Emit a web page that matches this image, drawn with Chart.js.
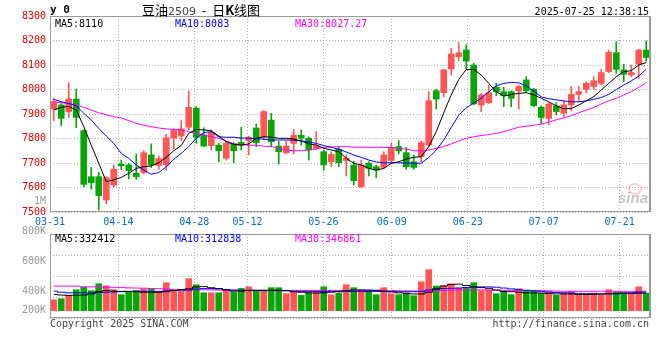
<!DOCTYPE html>
<html><head><meta charset="utf-8">
<script src="https://cdn.jsdelivr.net/npm/chart.js@4.4.1/dist/chart.umd.min.js"></script>
<style>
html,body{margin:0;padding:0;background:#fff;}
#wrap{position:relative;width:660px;height:360px;overflow:hidden;background:#fff;}
canvas{position:absolute;left:0;}
.t{position:absolute;white-space:nowrap;font-family:"DejaVu Sans Mono",monospace;font-size:10px;line-height:12px;height:12px;}
</style></head><body>
<div id="wrap">
<canvas id="k" width="660" height="232" style="top:0;width:660px;height:232px"></canvas>
<canvas id="v" width="660" height="132" style="top:190px;width:660px;height:132px"></canvas>
<div class="t" style="left:50px;top:4px;font-weight:bold;font-size:11px;">y 0</div>
<div class="t" style="left:142px;top:2px;font-family:'Noto Sans CJK SC';font-size:13px;line-height:16px;height:16px">豆油<span style="color:#444;font-family:'DejaVu Sans';font-size:11px">2509</span>&nbsp;&nbsp;-&nbsp;&nbsp;日<b>K</b>线图</div>
<div class="t" id="stamp" style="right:11px;top:6px"></div>
<div class="t" id="m5" style="left:55px;top:18px;color:#000"></div>
<div class="t" id="m10" style="left:175px;top:18px;color:#0000ff"></div>
<div class="t" id="m30" style="left:295px;top:18px;color:#ff00ff"></div>
<div class="t" id="v5" style="left:55px;top:233px;color:#000"></div>
<div class="t" id="v10" style="left:175px;top:233px;color:#0000ff"></div>
<div class="t" id="v30" style="left:295px;top:233px;color:#ff00ff"></div>
<div class="t" style="left:50px;top:318px;color:#444">Copyright 2025 SINA.COM</div>
<div class="t" style="right:11px;top:318px;color:#444">http://finance.sina.com.cn</div>
<div style="position:absolute;left:628px;top:183px;width:10px;height:8px;border-radius:50%;border:2px solid rgba(240,120,120,0.35)"></div>
<div style="position:absolute;left:618px;top:189px;font:italic bold 15px 'Liberation Sans';color:rgba(140,140,140,0.5)">sina</div>
</div>
<script>
const stampText = '2025-07-25 12:38:15';
const days = ['03-31','04-01','04-02','04-03','04-07','04-08','04-09','04-10','04-11','04-14','04-15','04-16','04-17','04-18','04-21','04-22','04-23','04-24','04-25','04-28','04-29','04-30','05-06','05-07','05-08','05-09','05-12','05-13','05-14','05-15','05-16','05-19','05-20','05-21','05-22','05-23','05-26','05-27','05-28','05-29','05-30','06-03','06-04','06-05','06-06','06-09','06-10','06-11','06-12','06-13','06-16','06-17','06-18','06-19','06-20','06-23','06-24','06-25','06-26','06-27','06-30','07-01','07-02','07-03','07-04','07-07','07-08','07-09','07-10','07-11','07-14','07-15','07-16','07-17','07-18','07-21','07-22','07-23','07-24','07-25'];
const tickDays = ['03-31','04-14','04-28','05-12','05-26','06-09','06-23','07-07','07-21'];
const volTickLabels = ['1M','800K','600K','400K','200K'];

const opens  = [7920,7937,7910,7961,7832,7644,7644,7549,7610,7695, 7692,7658,7661,7733,7690,7692,7801,7810,7846,7924, 7814,7771,7773,7719,7778,7784,7791,7843,7805,7875, 7769,7742,7780,7813,7801,7760,7746,7705,7756,7710, 7692,7603,7699,7685,7682,7710,7767,7742,7705,7726, 7773,7995,7987,8084,8134,8161,8100,7937,7946,8009, 7991,7991,7994,8039,8001,7927,7882,7933,7903,7937, 7980,8001,8012,8025,8073,8150,8080,8059,8103,8161];
const highs  = [7964,7943,8028,8002,7835,7682,7662,7644,7692,7712, 7699,7737,7750,7778,7729,7817,7840,7873,7994,7930, 7844,7835,7780,7787,7783,7846,7810,7859,7914,7903, 7788,7790,7837,7835,7807,7828,7753,7746,7764,7733, 7708,7712,7705,7692,7746,7780,7791,7764,7733,7790, 7991,8001,8082,8168,8192,8182,8107,7984,8018,8025, 8009,7995,8018,8052,8005,7933,7946,7946,7954,8012, 8012,8032,8052,8082,8161,8195,8103,8100,8164,8198];
const lows   = [7873,7852,7886,7844,7603,7593,7508,7534,7603,7674, 7635,7633,7655,7682,7674,7671,7756,7791,7835,7780, 7767,7753,7705,7712,7701,7753,7733,7767,7794,7767, 7696,7737,7737,7773,7712,7756,7671,7685,7685,7647, 7610,7600,7647,7640,7678,7705,7737,7674,7674,7705, 7767,7920,7971,8059,8118,8082,7937,7910,7943,7975, 7930,7930,7920,7987,7930,7859,7855,7896,7886,7914, 7950,7987,8001,8018,8069,8066,8032,8052,8046,8116];
const closes = [7950,7882,7961,7886,7613,7620,7567,7640,7674,7689, 7669,7644,7742,7692,7718,7803,7832,7839,7927,7805, 7769,7824,7750,7780,7750,7773,7805,7783,7910,7787, 7746,7769,7813,7801,7753,7771,7692,7735,7701,7719, 7628,7692,7678,7671,7733,7764,7750,7685,7682,7783, 7954,7961,8080,8145,8150,8116,7941,7978,7987,7991, 7975,7964,8012,7995,7934,7886,7941,7910,7937,7980, 7991,8025,8036,8069,8152,8082,8062,8069,8161,8131];

const ma5  = [7916,7927,7931,7916,7848,7773,7699,7624,7631,7641, 7658,7678,7685,7688,7701,7723,7750,7772,7821,7837, 7835,7831,7810,7787,7776,7773,7778,7801,7807,7805, 7801,7801,7798,7790,7778,7773,7760,7753,7746,7719, 7699,7692,7678,7671,7678,7699,7705,7716,7723,7726, 7767,7828,7905,7978,8041,8082,8082,8059,8025,7991, 7973,7980,7984,7987,7978,7964,7950,7933,7922,7922, 7937,7954,7971,7998,8025,8052,8073,8077,8100,8110];
const ma10 = [7960,7950,7943,7933,7903,7876,7841,7810,7780,7739, 7719,7692,7671,7654,7661,7685,7715,7739,7767,7801, 7824,7828,7807,7805,7805,7802,7801,7799,7797,7794, 7794,7794,7793,7790,7786,7780,7771,7764,7756,7745, 7733,7723,7712,7704,7701,7701,7701,7700,7699,7699, 7722,7753,7794,7845,7895,7925,7945,7965,7990,8015, 8025,8029,8027,8015,7994,7970,7962,7958,7953,7950, 7950,7953,7960,7967,7980,8000,8018,8035,8055,8083];
const ma30 = [7949,7946,7943,7937,7927,7916,7905,7897,7889,7884, 7873,7862,7854,7848,7843,7839,7837,7835,7828,7821, 7814,7807,7801,7790,7778,7775,7773,7772,7769,7767, 7760,7753,7750,7750,7753,7758,7764,7765,7767,7767, 7765,7764,7764,7764,7764,7763,7760,7757,7750,7750, 7753,7760,7768,7778,7790,7801,7807,7812,7816,7821, 7828,7837,7846,7850,7854,7859,7867,7876,7884,7893, 7905,7916,7927,7941,7954,7964,7978,7991,8009,8027.27];

const volume = [196000,214000,274000,375000,417000,357000,482000,446000,375000,286000, 345000,363000,387000,393000,345000,500000,375000,345000,571000,464000, 321000,321000,321000,363000,333000,399000,428000,345000,363000,411000, 411000,304000,345000,274000,321000,345000,428000,286000,315000,464000, 411000,375000,363000,286000,411000,304000,286000,315000,268000,518000, 732000,440000,446000,476000,405000,405000,500000,357000,369000,304000, 345000,286000,393000,357000,357000,315000,333000,274000,315000,345000, 286000,286000,315000,286000,375000,333000,315000,315000,428000,315000];
const volMa5  = [290000,280000,275000,275000,280000,300000,340000,360000,350000,345000, 345000,340000,330000,330000,330000,340000,360000,380000,390000,425000, 430000,410000,395000,370000,350000,350000,360000,365000,365000,365000, 365000,360000,340000,330000,320000,315000,320000,330000,340000,360000, 370000,370000,370000,365000,350000,335000,320000,310000,300000,300000, 330000,390000,440000,470000,475000,450000,425000,415000,400000,370000, 345000,340000,330000,320000,318000,315000,310000,300000,300000,300000, 290000,290000,295000,300000,305000,310000,320000,320000,330000,332412];
const volMa10 = [350000,330000,320000,320000,320000,320000,325000,330000,335000,340000, 345000,345000,345000,345000,345000,355000,360000,365000,370000,385000, 395000,395000,390000,380000,370000,365000,365000,360000,360000,360000, 360000,355000,350000,345000,345000,345000,345000,345000,345000,345000, 345000,345000,345000,345000,345000,345000,340000,340000,340000,345000, 370000,385000,395000,400000,405000,415000,425000,425000,425000,420000, 405000,390000,375000,365000,355000,345000,335000,325000,320000,315000, 310000,305000,300000,300000,300000,302000,305000,308000,310000,312838];
const volMa30 = [440000,440000,440000,438000,428000,425000,423000,418000,418000,416000, 408000,405000,402000,395000,393000,390000,378000,376000,375000,375000, 374000,372000,368000,366000,364000,363000,363000,363000,363000,363000, 363000,363000,363000,363000,363000,362000,362000,361000,361000,361000, 360000,360000,360000,360000,360000,358000,356000,354000,352000,350000, 350000,352000,360000,368000,372000,372000,372000,372000,370000,368000, 365000,363000,362000,362000,362000,360000,355000,350000,348000,347000, 347000,347000,347000,347000,347000,347000,347000,347000,347000,346861];

const UP = '#ff5555', DN = '#08a508';
const MONO = '"DejaVu Sans Mono", monospace';
const colors = closes.map((c, i) => c >= opens[i] ? UP : DN);
const tickIdx = tickDays.map(d => days.indexOf(d));
const last = a => a[a.length - 1];

document.getElementById('stamp').textContent = stampText;
document.getElementById('m5').textContent = 'MA5:' + last(ma5);
document.getElementById('m10').textContent = 'MA10:' + last(ma10);
document.getElementById('m30').textContent = 'MA30:' + last(ma30).toFixed(2);
document.getElementById('v5').textContent = 'MA5:' + last(volMa5);
document.getElementById('v10').textContent = 'MA10:' + last(volMa10);
document.getElementById('v30').textContent = 'MA30:' + last(volMa30);

const frame = {id: 'frame', afterDraw(c) {
  const {ctx, chartArea: a} = c;
  ctx.save(); ctx.strokeStyle = '#9a9a9a'; ctx.lineWidth = 1; ctx.setLineDash([]);
  ctx.strokeRect(a.left + 0.5, a.top + 0.5, a.right - a.left - 1, a.bottom - a.top - 1);
  ctx.beginPath(); ctx.moveTo(a.right + 0.5, a.top); ctx.lineTo(a.right + 0.5, a.bottom); ctx.stroke();
  ctx.restore();
}};
const volLabels = {id: 'volLabels', afterDraw(c) {
  const {ctx, chartArea: a} = c;
  ctx.save(); ctx.font = '10px ' + MONO; ctx.fillStyle = '#999'; ctx.textAlign = 'right'; ctx.textBaseline = 'middle';
  volTickLabels.forEach((t, k) => { const y = Math.min(a.top - 33 + k * 30, a.bottom - 7.5); ctx.fillText(t, a.left - 4, y); });
  ctx.restore();
}};

const gridCol = '#b0b0b0';
function dateAxis(showLabels) {
  return {type: 'linear', position: 'bottom', min: 0, max: days.length - 1,
    afterBuildTicks: s => { s.ticks = tickIdx.map(v => ({value: v})); },
    afterFit: s => { s.height = showLabels ? 20 : 4; },
    grid: {color: gridCol, drawTicks: false}, border: {display: false, dash: [1, 2]},
    ticks: {display: showLabels, autoSkip: false, maxRotation: 0, padding: 4, color: '#0a6ecc',
      font: {family: MONO, size: 10}, callback: (v, i) => tickDays[i]}};
}
const catAxis = {type: 'category', display: false, offset: true};
const lineDs = (data, color, extra) => Object.assign({type: 'line', data, borderColor: color, borderWidth: 1,
  pointRadius: 0, tension: 0, fill: false, order: 0}, extra || {});

new Chart(document.getElementById('k'), {
  data: {labels: days, datasets: [
    {type: 'bar', data: lows.map((l, i) => [l, highs[i]]), backgroundColor: colors, barThickness: 1, grouped: false, order: 2},
    {type: 'bar', data: opens.map((o, i) => [o, closes[i]]), backgroundColor: colors, barThickness: 6, grouped: false, order: 1},
    lineDs(ma5, '#000000'), lineDs(ma10, '#0000ff'), lineDs(ma30, '#ff00ff')
  ]},
  options: {responsive: false, animation: false, devicePixelRatio: 1,
    layout: {padding: {top: 16, right: 10, left: 0, bottom: 0}},
    plugins: {legend: {display: false}, tooltip: {enabled: false}},
    scales: {
      x: catAxis, xg: dateAxis(true),
      y: {min: 7500, max: 8300, afterFit: s => { s.width = 50; },
        ticks: {stepSize: 100, padding: 4, color: '#e00000', font: {family: MONO, size: 10}, callback: v => String(v)},
        grid: {color: gridCol, drawTicks: false}, border: {display: false, dash: [1, 2]}}
    }},
  plugins: [frame]
});

new Chart(document.getElementById('v'), {
  data: {labels: days, datasets: [
    {type: 'bar', data: volume, backgroundColor: colors, barThickness: 6, grouped: false, order: 1},
    lineDs(volMa5, '#000000', {stepped: 'middle'}), lineDs(volMa10, '#0000ff', {stepped: 'middle'}), lineDs(volMa30, '#ff00ff', {stepped: 'middle'})
  ]},
  options: {responsive: false, animation: false, devicePixelRatio: 1,
    layout: {padding: {top: 44, right: 10, left: 0, bottom: 0}},
    plugins: {legend: {display: false}, tooltip: {enabled: false}},
    scales: {
      x: catAxis, xg: dateAxis(false),
      y: {min: -130000, max: 1370000, afterFit: s => { s.width = 50; },
        afterBuildTicks: s => { s.ticks = [0, 1, 2, 3, 4].map(k => ({value: -130000 + k * 375000})); },
        ticks: {display: false}, grid: {color: gridCol, drawTicks: false}, border: {display: false, dash: [1, 2]}}
    }},
  plugins: [frame, volLabels]
});
</script>
</body></html>
